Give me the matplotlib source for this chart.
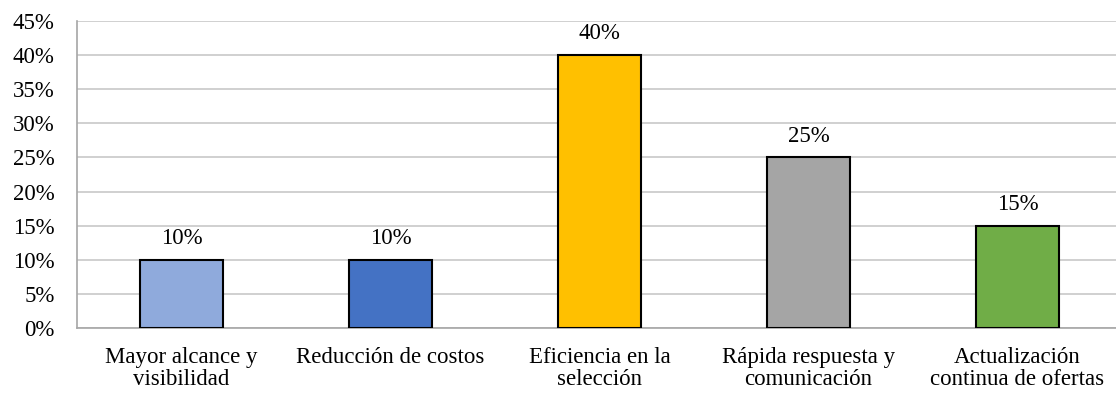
import matplotlib
matplotlib.use("Agg")
import matplotlib.pyplot as plt
from matplotlib.ticker import FuncFormatter, MultipleLocator

categories = [
    "Mayor alcance y\nvisibilidad",
    "Reducción de costos",
    "Eficiencia en la\nselección",
    "Rápida respuesta y\ncomunicación",
    "Actualización\ncontinua de ofertas",
]
values = [10, 10, 40, 25, 15]
colors = ["#8FAADC", "#4472C4", "#FFC000", "#A5A5A5", "#70AD47"]

plt.rcParams["font.family"] = ["Liberation Serif", "DejaVu Serif"]
FS = 16.5

W, H = 1116, 394
fig = plt.figure(figsize=(W / 100, H / 100), dpi=100)
# plot area runs past the right edge, as in the original export
ax = fig.add_axes([77 / W, (H - 328) / H, 1045 / W, 307 / H])

x = range(len(categories))
bars = ax.bar(x, values, width=0.4, color=colors, edgecolor="black",
              linewidth=1.5, zorder=3)
for b, v in zip(bars, values):
    ax.text(b.get_x() + b.get_width() / 2, v + 1.6, f"{v}%",
            ha="center", va="bottom", fontsize=FS)

ax.set_xlim(-0.5, 4.5)
ax.set_ylim(0, 45)
ax.yaxis.set_major_locator(MultipleLocator(5))
ax.yaxis.set_major_formatter(FuncFormatter(lambda v, _: f"{v:.0f}%"))
ax.set_xticks(list(x))
ax.set_xticklabels(categories, fontsize=FS, linespacing=1.05)
ax.tick_params(axis="y", labelsize=FS, length=0, pad=16)
ax.tick_params(axis="x", length=0, pad=14)
ax.grid(axis="y", color="#C8C8C8", linewidth=1.2, zorder=0)

for s in ("top", "right"):
    ax.spines[s].set_visible(False)
for s in ("left", "bottom"):
    ax.spines[s].set_color("#A6A6A6")
    ax.spines[s].set_linewidth(1.2)

fig.savefig("out.png", dpi=100)
